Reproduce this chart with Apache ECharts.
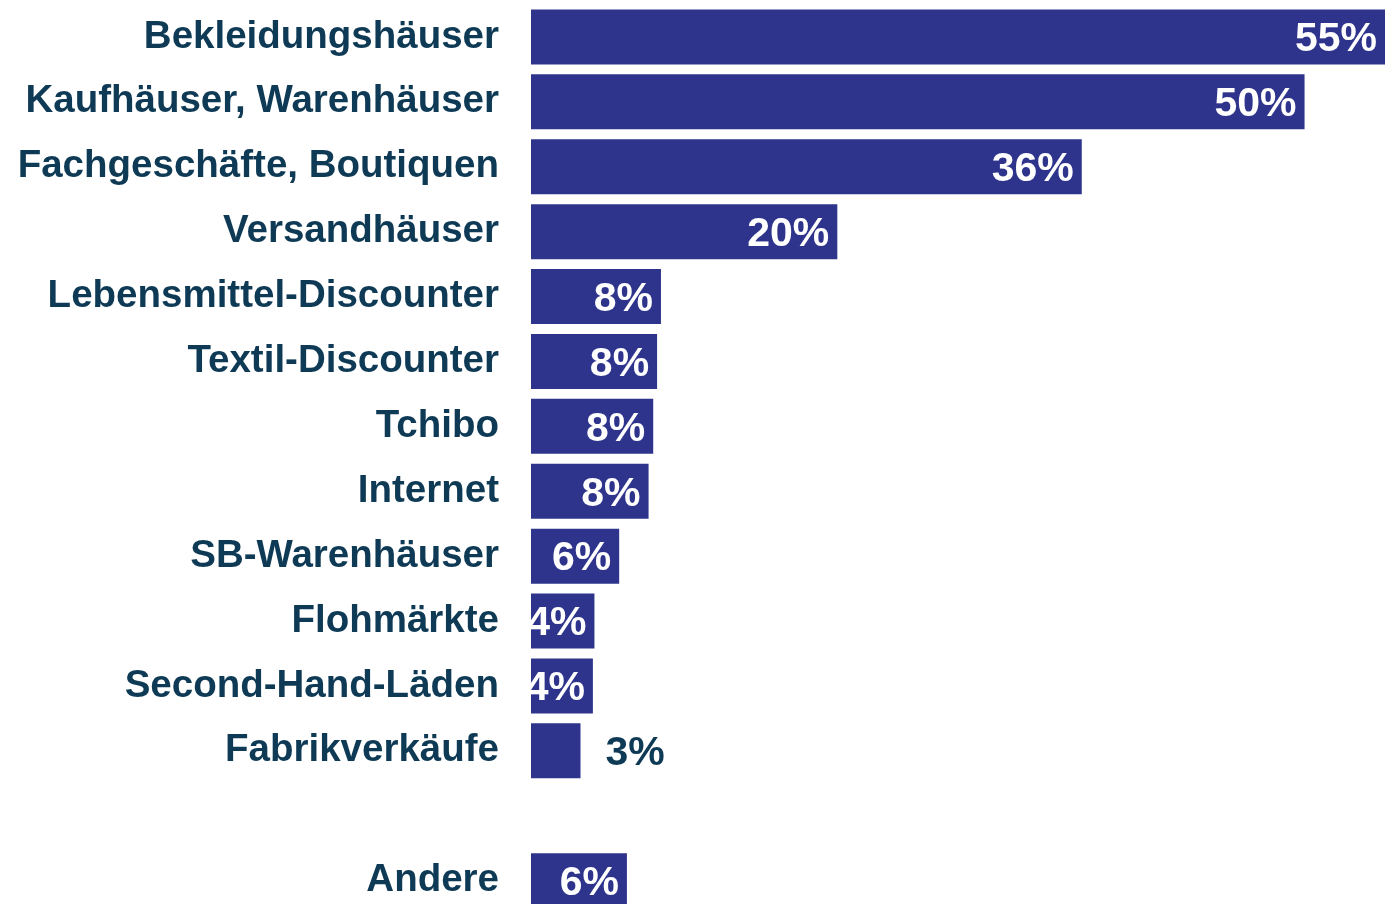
<!DOCTYPE html>
<html style="height: 100%">
<head>
    <meta charset="utf-8">
</head>
<body style="height: 100%; margin: 0; background: #ffffff; overflow: hidden">
<div id="container" style="width: 1385px; height: 930px"></div>
<script type="text/javascript" src="https://cdn.jsdelivr.net/npm/echarts@6/dist/echarts.min.js"></script>
<script type="text/javascript">
    // Kategorien (von oben nach unten), leere Zeile vor "Andere"
    var categories = ['Bekleidungshäuser', 'Kaufhäuser, Warenhäuser', 'Fachgeschäfte, Boutiquen',
        'Versandhäuser', 'Lebensmittel-Discounter', 'Textil-Discounter', 'Tchibo', 'Internet',
        'SB-Warenhäuser', 'Flohmärkte', 'Second-Hand-Läden', 'Fabrikverkäufe', '', 'Andere'];
    // Balkenlänge (aus dem Bild geschätzt)
    var values = [55.2, 50, 35.6, 19.8, 8.4, 8.15, 7.9, 7.6, 5.7, 4.1, 4.0, 3.2, null, 6.2];
    // angezeigte Prozentwerte
    var shown = [55, 50, 36, 20, 8, 8, 8, 8, 6, 4, 4, 3, null, 6];

    var barColor = '#2e348c';
    var textColor = '#0e3a55';
    var font = '"Liberation Sans", Arial, sans-serif';

    var seriesData = [];
    for (var i = 0; i < values.length; i++) {
        var item = { value: values[i] };
        // kleiner Balken: Beschriftung rechts daneben
        if (i === 11) {
            item.label = { position: 'right', distance: 25, color: textColor };
        }
        seriesData.push(item);
    }

    var dom = document.getElementById('container');
    var myChart = echarts.init(dom);

    var option = {
        animation: false,
        grid: {
            left: 531,
            width: 854,
            top: 4.5,
            height: 908.6
        },
        xAxis: {
            type: 'value',
            min: 0,
            max: 55.2,
            show: false
        },
        yAxis: {
            type: 'category',
            inverse: true,
            data: categories,
            axisLine: { show: false },
            axisTick: { show: false },
            axisLabel: {
                margin: 32,
                padding: [4, 0, 0, 0],
                color: textColor,
                fontFamily: font,
                fontWeight: 'bold',
                fontSize: 38.5
            }
        },
        series: [
            {
                type: 'bar',
                data: seriesData,
                barWidth: 55,
                itemStyle: { color: barColor },
                label: {
                    show: true,
                    position: 'insideRight',
                    distance: 8,
                    offset: [0, 3],
                    color: '#ffffff',
                    fontFamily: font,
                    fontWeight: 'bold',
                    fontSize: 41,
                    formatter: function (p) {
                        return shown[p.dataIndex] + '%';
                    }
                }
            }
        ]
    };

    myChart.setOption(option);
</script>
</body>
</html>
